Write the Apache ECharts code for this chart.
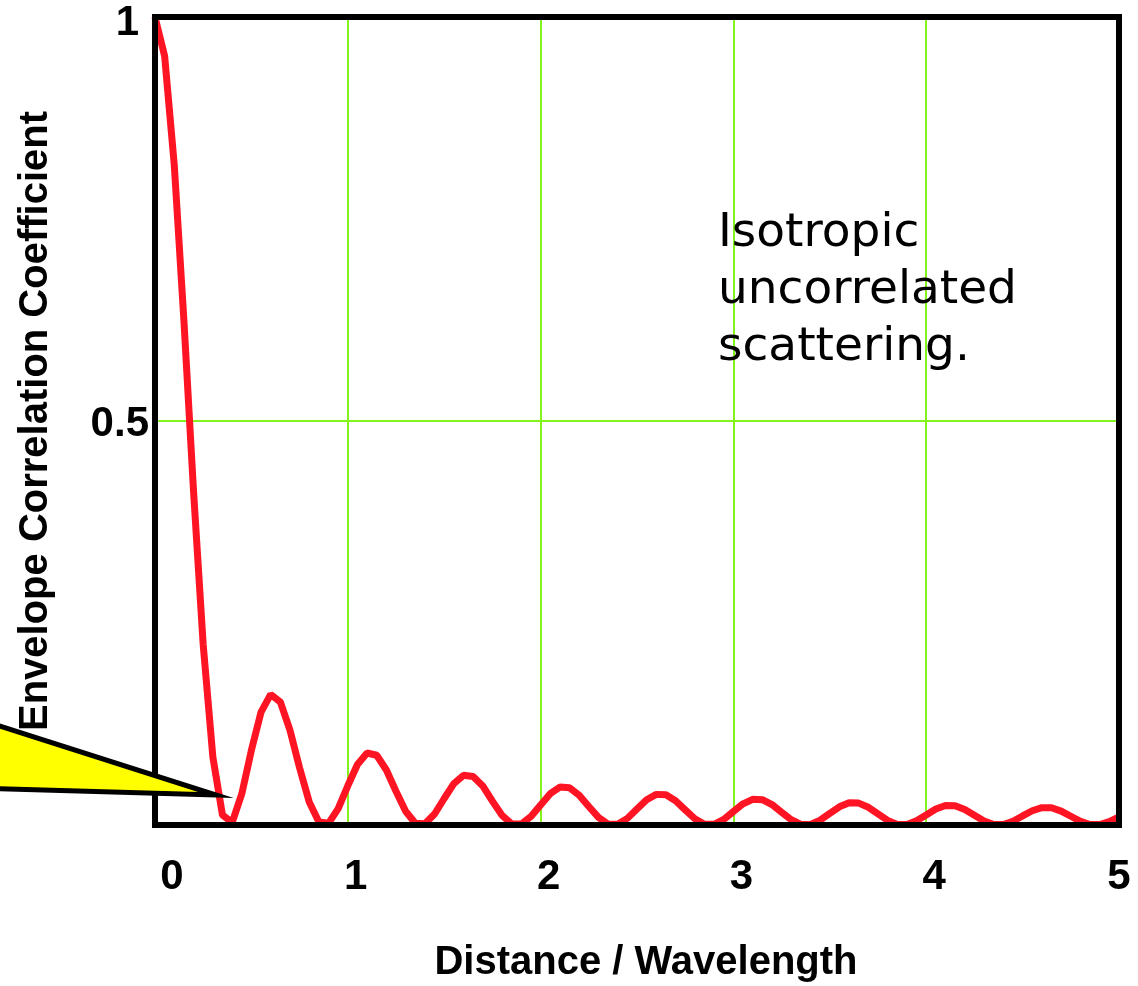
<!DOCTYPE html>
<html>
<head>
<meta charset="utf-8">
<script src="https://cdn.jsdelivr.net/npm/echarts@6/dist/echarts.min.js"></script>
<style>
html,body{margin:0;padding:0;background:#fff;}
#chart{width:1138px;height:986px;}
</style>
</head>
<body>
<div id="chart"></div>
<script>
// Distance / wavelength sample positions
var distances = [
  0.00,0.05,0.10,0.15,0.20,0.25,0.30,0.35,0.40,0.45,
  0.50,0.55,0.60,0.65,0.70,0.75,0.80,0.85,0.90,0.95,
  1.00,1.05,1.10,1.15,1.20,1.25,1.30,1.35,1.40,1.45,
  1.50,1.55,1.60,1.65,1.70,1.75,1.80,1.85,1.90,1.95,
  2.00,2.05,2.10,2.15,2.20,2.25,2.30,2.35,2.40,2.45,
  2.50,2.55,2.60,2.65,2.70,2.75,2.80,2.85,2.90,2.95,
  3.00,3.05,3.10,3.15,3.20,3.25,3.30,3.35,3.40,3.45,
  3.50,3.55,3.60,3.65,3.70,3.75,3.80,3.85,3.90,3.95,
  4.00,4.05,4.10,4.15,4.20,4.25,4.30,4.35,4.40,4.45,
  4.50,4.55,4.60,4.65,4.70,4.75,4.80,4.85,4.90,4.95,
  5.00
];
// Envelope correlation coefficient
var correlation = [
  1.0000,0.9516,0.8167,0.6240,0.4128,0.2230,0.0844,0.0123,0.0030,0.0385,
  0.0926,0.1396,0.1616,0.1523,0.1174,0.0707,0.0285,0.0038,0.0021,0.0202,
  0.0485,0.0749,0.0891,0.0863,0.0681,0.0418,0.0170,0.0022,0.0015,0.0136,
  0.0328,0.0513,0.0615,0.0600,0.0483,0.0296,0.0119,0.0015,0.0012,0.0104,
  0.0248,0.0388,0.0469,0.0461,0.0369,0.0229,0.0094,0.0012,0.0009,0.0082,
  0.0199,0.0313,0.0379,0.0374,0.0300,0.0187,0.0077,0.0009,0.0008,0.0069,
  0.0167,0.0262,0.0318,0.0314,0.0253,0.0158,0.0065,0.0008,0.0007,0.0059,
  0.0143,0.0225,0.0274,0.0271,0.0219,0.0137,0.0056,0.0007,0.0006,0.0052,
  0.0125,0.0198,0.0241,0.0239,0.0192,0.0120,0.0049,0.0006,0.0005,0.0046,
  0.0112,0.0176,0.0215,0.0213,0.0172,0.0108,0.0044,0.0005,0.0005,0.0042,
  0.0101
];
var xTickLabels = ['0','1','2','3','4','5'];
var yTickLabels = {'0':'', '0.5':'0.5', '1':'1'};
var xTitle = 'Distance / Wavelength';
var yTitle = 'Envelope Correlation Coefficient';
var noteText = 'Isotropic\nuncorrelated\nscattering.';

var chart = echarts.init(document.getElementById('chart'), null, {renderer:'canvas'});
var pts = distances.map(function(d,i){ return [d, correlation[i]]; });
var labelFont = 'Liberation Sans, Arial, sans-serif';

chart.setOption({
  backgroundColor:'#ffffff',
  animation:false,
  grid:{
    show:true, z:3,
    left:155, right:19, top:17, bottom:161,
    containLabel:false,
    outerBoundsMode:'none',
    backgroundColor:'transparent',
    borderColor:'#000', borderWidth:6
  },
  xAxis:{
    type:'value', min:0, max:5, interval:1,
    axisLine:{show:false}, axisTick:{show:false},
    splitLine:{show:true, lineStyle:{color:'#84f21c', width:2}},
    axisLabel:{
      margin:31,
      formatter:function(v){
        var t = xTickLabels[Math.round(v)];
        if (v === 0) return '{a|' + t + '}';
        if (v === 5) return '{c|' + t + '}';
        return '{b|' + t + '}';
      },
      rich:{
        a:{fontFamily:labelFont, fontWeight:'bold', fontSize:42, color:'#000', padding:[0,0,0,34]},
        b:{fontFamily:labelFont, fontWeight:'bold', fontSize:42, color:'#000', padding:[0,0,0,16]},
        c:{fontFamily:labelFont, fontWeight:'bold', fontSize:42, color:'#000'}
      }
    },
    name:xTitle, nameLocation:'middle', nameGap:118,
    nameTextStyle:{fontFamily:labelFont, fontWeight:'bold', fontSize:40, color:'#000', padding:[0,0,0,18]}
  },
  yAxis:{
    type:'value', min:0, max:1, interval:0.5,
    axisLine:{show:false}, axisTick:{show:false},
    splitLine:{show:true, lineStyle:{color:'#84f21c', width:2}},
    axisLabel:{
      margin:6,
      formatter:function(v){
        var t = yTickLabels[String(v)];
        if (!t) return '';
        if (v === 1) return '{one|' + t + '}';
        return '{half|' + t + '}';
      },
      rich:{
        one:{fontFamily:labelFont, fontWeight:'bold', fontSize:42, color:'#000', padding:[12,10,0,0]},
        half:{fontFamily:labelFont, fontWeight:'bold', fontSize:42, color:'#000', padding:[6,0,0,0]}
      }
    },
    name:yTitle, nameLocation:'middle', nameGap:99, nameRotate:90,
    nameTextStyle:{fontFamily:labelFont, fontWeight:'bold', fontSize:40, color:'#000'}
  },
  series:[{
    type:'line', z:2,
    data:pts,
    showSymbol:false,
    lineStyle:{color:'#ff1424', width:7},
    itemStyle:{color:'#ff1424'}
  }],
  graphic:[
    {
      type:'polygon', z:100,
      shape:{points:[[-60,707],[216,795],[-60,787]]},
      style:{fill:'#ffff00', stroke:'#000', lineWidth:5, lineJoin:'miter'}
    },
    {
      type:'text', z:100,
      x:718, y:205,
      style:{
        text:noteText,
        font:'47px "DejaVu Sans"',
        lineHeight:57,
        fill:'#000',
        align:'left',
        verticalAlign:'top'
      }
    }
  ]
});
</script>
</body>
</html>
